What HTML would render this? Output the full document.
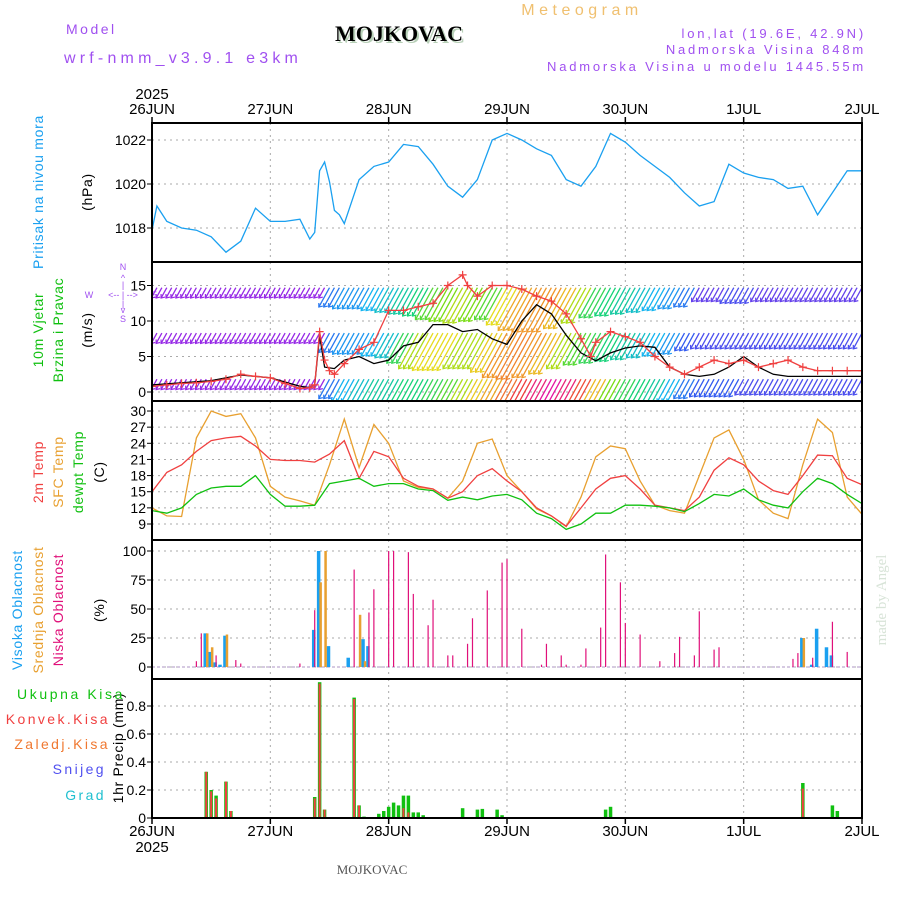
<!DOCTYPE html>
<html><head><meta charset="utf-8"><style>
html,body{margin:0;padding:0;background:#fff;width:900px;height:900px;overflow:hidden}
svg text{font-family:"Liberation Sans",sans-serif}
</style></head><body>
<svg id="chart" width="900" height="900" viewBox="0 0 900 900" xmlns="http://www.w3.org/2000/svg">
<rect width="900" height="900" fill="#fff"/>
<text x="582" y="15" font-size="16" fill="#f0c070" text-anchor="middle" letter-spacing="4.5">Meteogram</text>
<text x="401" y="43" font-size="22" font-weight="bold" fill="#b8d0b8" text-anchor="middle" style="font-family:'Liberation Serif',serif">MOJKOVAC</text>
<text x="399" y="41" font-size="22" font-weight="bold" fill="#000" text-anchor="middle" style="font-family:'Liberation Serif',serif">MOJKOVAC</text>
<text x="66" y="34" font-size="14" fill="#a050f0" letter-spacing="2.5">Model</text>
<text x="64" y="63" font-size="16" fill="#a050f0" letter-spacing="4.2">wrf-nmm_v3.9.1 e3km</text>
<text x="866" y="38" font-size="13" fill="#a050f0" text-anchor="end" letter-spacing="2.8">lon,lat (19.6E, 42.9N)</text>
<text x="866" y="54" font-size="13" fill="#a050f0" text-anchor="end" letter-spacing="2.8">Nadmorska Visina 848m</text>
<text x="866" y="71" font-size="13" fill="#a050f0" text-anchor="end" letter-spacing="2.8">Nadmorska Visina u modelu 1445.55m</text>
<text x="372" y="874" font-size="13" fill="#555" text-anchor="middle" style="font-family:'Liberation Serif',serif">MOJKOVAC</text>
<text transform="translate(886,600) rotate(-90)" font-size="15" fill="#d8e4d8" text-anchor="middle" style="font-family:'Liberation Serif',serif">made by Angel</text>

<g font-size="14" letter-spacing="0.7">
<text transform="translate(43,192) rotate(-90)" fill="#1aa0f0" text-anchor="middle">Pritisak na nivou mora</text>
<text transform="translate(92,192) rotate(-90)" fill="#000" text-anchor="middle">(hPa)</text>
<text transform="translate(43,330) rotate(-90)" fill="#10c010" text-anchor="middle">10m Vjetar</text>
<text transform="translate(63,330) rotate(-90)" fill="#10c010" text-anchor="middle">Brzina i Pravac</text>
<text transform="translate(92,330) rotate(-90)" fill="#000" text-anchor="middle">(m/s)</text>
<text transform="translate(43,472) rotate(-90)" fill="#f04040" text-anchor="middle">2m Temp</text>
<text transform="translate(63,472) rotate(-90)" fill="#e8a030" text-anchor="middle">SFC Temp</text>
<text transform="translate(83,472) rotate(-90)" fill="#10c010" text-anchor="middle">dewpt Temp</text>
<text transform="translate(104,472) rotate(-90)" fill="#000" text-anchor="middle">(C)</text>
<text transform="translate(22,610) rotate(-90)" fill="#1aa0f0" text-anchor="middle">Visoka Oblacnost</text>
<text transform="translate(43,610) rotate(-90)" fill="#e8a030" text-anchor="middle">Srednja Oblacnost</text>
<text transform="translate(63,610) rotate(-90)" fill="#e0107a" text-anchor="middle">Niska Oblacnost</text>
<text transform="translate(104,610) rotate(-90)" fill="#000" text-anchor="middle">(%)</text>
<text transform="translate(123,748) rotate(-90)" fill="#000" text-anchor="middle">1hr Precip (mm)</text>
<text x="125" y="699" fill="#10c010" text-anchor="end" letter-spacing="2.6">Ukupna Kisa</text>
<text x="110" y="724" fill="#f04040" text-anchor="end" letter-spacing="2.4">Konvek.Kisa</text>
<text x="110" y="749" fill="#f07830" text-anchor="end" letter-spacing="2.4">Zaledj.Kisa</text>
<text x="106" y="774" fill="#5050f0" text-anchor="end" letter-spacing="2.4">Snijeg</text>
<text x="106" y="800" fill="#20c0d0" text-anchor="end" letter-spacing="2.4">Grad</text>
</g>
<g fill="#a050f0" font-size="9" text-anchor="middle">
<text x="123" y="270">N</text><text x="123" y="281">^</text><text x="123" y="288">|</text>
<text x="89" y="298">W</text><text x="123" y="298">&lt;-- | --&gt;</text><text x="154" y="298">E</text>
<text x="123" y="307">|</text><text x="123" y="313">v</text><text x="123" y="322">S</text>
</g>
<g id="plot"></g>
</svg>
<script>
// ---- data ----
const dayLabels = ['26JUN','27JUN','28JUN','29JUN','30JUN','1JUL','2JUL'];
const presHours = [0,1,3,6,9,12,15,18,21,24,27,30,32,33,34,35,36,37,38,39,42,45,48,51,54,57,60,63,66,69,72,75,78,81,84,87,90,93,96,99,102,105,108,111,114,117,120,123,126,129,132,135,138,141,144];
const presVals = [1017.9,1019,1018.3,1018,1017.9,1017.6,1016.9,1017.4,1018.9,1018.3,1018.3,1018.4,1017.5,1017.8,1020.6,1021,1020.1,1018.8,1018.6,1018.2,1020.2,1020.8,1021,1021.8,1021.7,1020.9,1019.9,1019.4,1020.2,1022,1022.3,1022,1021.6,1021.3,1020.2,1019.9,1020.8,1022.3,1021.9,1021.3,1020.8,1020.3,1019.6,1019,1019.2,1020.9,1020.5,1020.3,1020.2,1019.8,1019.9,1018.6,1019.6,1020.6,1020.6];
const presTicks = [1018,1020,1022];

const windLow = [3,3,3,3,3,3,3,3,3,3,3,3,8,10,11,12,12,13,13,14,15,17,19,21,24,27,30,32,30,26,20,16,14,13,12,10,8,7,7,7,6,6,6,6,6,6,6,6,6];
const windMid = [3,3,3,3,3,3,3,3,3,3,3,3,8,9,9,10,11,14,17,18,18,17,17,19,22,23,22,20,17,15,14,13,12,11,10,9,7,6,6,6,6,6,6,6,6,6,6,6,6];
const windTop = [3,3,3,3,3,3,3,3,3,3,3,3,8,9,9,10,11,12,13,15,16,17,16,15,18,21,22,22,20,17,14,13,12,11,10,9,8,5,5,6,6,5,5,5,5,5,5,5,5];
const gustHours = [0,3,6,9,12,15,18,21,24,27,30,32,33,34,35,36,37,39,42,45,48,51,54,57,60,63,64,66,69,72,75,78,81,84,87,89,90,93,96,99,102,105,108,111,114,117,120,123,126,129,132,135,138,141,144];
const gustVals = [0.8,1,1.2,1.3,1.5,1.8,2.5,2.2,2,1.2,0.5,0.6,1,8.5,4.5,3,2.5,4,6,7,11.5,11.5,12,12.5,15,16.5,15,13.5,15,15,14.5,13.5,12.8,11,7.5,5,7,8.5,7.8,7,5,3.5,2.5,3.5,4.5,4,4.5,3.5,4,4.5,3.5,3,3,3,3];
const speedHours = [0,6,12,18,24,30,32,33,34,35,37,39,42,45,48,51,54,57,60,63,66,69,72,75,78,81,84,87,90,93,96,99,102,105,108,111,114,117,120,123,126,129,132,135,138,141,144];
const speedVals = [1,1.3,1.6,2.4,2,0.8,0.6,1,8,3.5,3.3,4.5,5,4,4.5,6.5,7,9.5,9.5,8.5,8.8,7.5,6.7,10,12.3,11,8,5.5,4.4,5.5,6.2,6.5,6.3,3.5,2.5,2.2,2.5,3.5,5,3.5,2.5,2.2,2.2,2.2,2.2,2.2,2.2];
const windTicks = [0,5,10,15];

const tempHours = [0,3,6,9,12,15,18,21,24,27,30,33,36,39,42,45,48,51,54,57,60,63,66,69,72,75,78,81,84,87,90,93,96,99,102,105,108,111,114,117,120,123,126,129,132,135,138,141,144];
const t2m = [15,18.6,20,22.5,24.5,25,25.3,23.5,21,20.8,20.8,20.5,22,24.5,17.5,22.5,21.5,17.5,16,15.5,13.8,15,18,19.3,17,15,12,10.5,8.6,12,15.5,17.5,18,15.5,12.5,12,11.5,14,19,21.3,20,17,15.2,14.5,18,21.8,21.7,17.5,16.3];
const tSfc = [12,10.5,10.4,25,30,29,29.5,25,16,14,13.3,12.5,20,28.5,19.5,27.5,24,17,15.8,15.5,13.8,17,24,24.8,18,15,11.8,10.5,8.5,14,21.5,23.5,23,17,12.5,11.5,11,18,25,26.5,21,13.5,11,10,20,28.5,26,14,10.8];
const tDew = [11.5,11,12,14.5,15.7,16,16,18,14.5,12.3,12.3,12.5,16.5,17,17.5,16,16.5,16.5,15.5,15.2,13.4,14,13.5,14.2,14.5,13.5,11,10,8,9,11,11,12.5,12.5,12.3,12,11.3,12.8,14.5,14.2,15.5,13.5,12.5,12,15,17.5,16.5,14.5,12.8];
const tempTicks = [9,12,15,18,21,24,27,30];

const lowCloudHours = [9,10,13,17,18,30,33,41,44,45,48,49,52,53,56,57,60,61,64,65,68,71,72,75,79,80,83,84,87,88,91,92,95,96,99,103,106,107,110,111,114,115,130,131,134,138,141];
const lowCloudVals = [5,29,10,6,3,3,49,84,47,67,100,100,99,63,36,58,10,10,20,42,66,90,93,33,2,20,10,2,2,16,34,97,73,38,28,5,12,26,10,48,15,17,7,12,8,39,13];
const highCloudHours = [11,12,13,14,15,33,34,36,40,43,44,132,134,135,137,138];
const highCloudVals = [29,13,4,2,27,32,100,18,8,24,18,25,2,33,17,10];
const midCloudHours = [11,12,15,34,35,42,43,132];
const midCloudVals = [29,17,28,73,100,45,5,25];
const cloudTicks = [0,25,50,75,100];

const precipHours = [11,12,13,15,16,33,34,35,41,42,43,46,47,48,49,50,51,52,53,54,55,63,66,67,70,71,92,93,132,138,139];
const precipTotal = [.33,.20,.16,.26,.05,.15,.97,.06,.86,.09,.01,.03,.05,.08,.11,.09,.16,.16,.04,.04,.02,.07,.06,.065,.06,.02,.06,.08,.25,.09,.05];
const precipConv = [.33,.19,.14,.26,.05,.14,.96,.06,.85,.09,0,0,0,0,0,0,.07,.04,0,0,0,0,0,0,0,0,0,0,.21,0,0];
const precipTicks = [0,0.2,0.4,0.6,0.8];

// ---- layout ----
const NS='http://www.w3.org/2000/svg';
const X0=152, X1=862, HOURS=144;
const xOf = h => X0 + h*(X1-X0)/HOURS;
const panels = [{top:123,bot:262},{top:262,bot:401},{top:401,bot:540},{top:540,bot:679},{top:679,bot:818}];
const yPres = v => 184-(v-1020)*22;
const yWind = v => 392-v*7.1;
const yTemp = v => 524-(v-9)*5.38;
const yCloud = v => 667-v*1.16;
const yPrec = v => 818-v*140;
const plot=document.getElementById('plot');
function mk(tag,attrs,parent){const e=document.createElementNS(NS,tag);for(const k in attrs)e.setAttribute(k,attrs[k]);(parent||plot).appendChild(e);return e;}
function clip(id,p){const c=mk('clipPath',{id:id});mk('rect',{x:X0,y:p.top,width:X1-X0,height:p.bot-p.top},c);}
panels.forEach((p,i)=>clip('c'+i,p));

function grid(ticks,yf,i,fmt){
  const g=mk('g',{});
  
  
  const p=panels[i];
  for(let d=1;d<6;d++){mk('line',{x1:xOf(d*24),x2:xOf(d*24),y1:p.top,y2:p.bot,stroke:'#aaa','stroke-dasharray':'2,4'},g);}
  ticks.forEach(t=>{
    const y=yf(t);
    mk('line',{x1:X0,x2:X1,y1:y,y2:y,stroke:'#aaa','stroke-dasharray':'2,4'},g);
    mk('line',{x1:X0-5,x2:X0,y1:y,y2:y,stroke:'#000'},g);
    const tx=mk('text',{x:X0-6,y:y+5,'font-size':14,'text-anchor':'end',fill:'#000'},g);
    tx.textContent=fmt(t);
  });
}
grid(presTicks,yPres,0,t=>String(t));
grid(windTicks,yWind,1,t=>String(t));
grid(tempTicks,yTemp,2,t=>String(t));
grid(cloudTicks,yCloud,3,t=>String(t));
grid(precipTicks,yPrec,4,t=>t===0?'0':String(t));

function line(hs,vs,yf,color,name,ci){
  const d=hs.map((h,i)=>(i?'L':'M')+xOf(h).toFixed(1)+','+yf(vs[i]).toFixed(1)).join('');
  const e=mk('path',{d:d,fill:'none',stroke:color,'stroke-width':1.3,'clip-path':'url(#c'+ci+')'});
  
  
  return e;
}
line(presHours,presVals,yPres,'#1aa0f0','pressure-line',0);

function windColor(s){
  const stops=[[3,[150,40,230]],[7,[50,90,240]],[10,[20,180,240]],[13,[20,210,120]],[16,[120,220,20]],[18,[230,220,30]],[22,[240,150,40]],[27,[240,60,60]],[32,[230,20,160]]];
  if(s<=stops[0][0])return 'rgb('+stops[0][1]+')';
  for(let i=1;i<stops.length;i++){if(s<=stops[i][0]){const a=stops[i-1],b=stops[i],f=(s-a[0])/(b[0]-a[0]);return 'rgb('+a[1].map((c,j)=>Math.round(c+(b[1][j]-c)*f))+')';}}
  return 'rgb('+stops[stops.length-1][1]+')';
}
function windRow(arr,base,name){
  const g=mk('g',{'clip-path':'url(#c1)'});
  
  
  const yb=yWind(base);
  arr.forEach((s,i)=>{
    for(let k=0;k<3;k++){
      const h=i*3+k; if(h>HOURS)break;
      const x=xOf(h), len=s*1.8+5, col=windColor(s);
      mk('line',{x1:x,y1:yb,x2:x-len*0.55,y2:yb+len,stroke:col,'stroke-width':1.3},g);
      mk('path',{d:`M${x-len*0.55+4},${yb+len-1}L${x-len*0.55},${yb+len}L${x-len*0.55},${yb+len-4}`,fill:'none',stroke:col,'stroke-width':1.2},g);
    }
  });
}
windRow(windTop,14.7,'wind-barbs-upper');
windRow(windMid,8.3,'wind-barbs-middle');
windRow(windLow,1.8,'wind-barbs-lower');
line(speedHours,speedVals,yWind,'#000','wind-speed-line',1);
line(gustHours,gustVals,yWind,'#f04040','wind-gust-line',1);
{
 const g=mk('g',{'clip-path':'url(#c1)'});
 
 
 gustHours.forEach((h,i)=>{const x=xOf(h),y=yWind(gustVals[i]);
  mk('path',{d:`M${x-4},${y}h8M${x},${y-4}v8`,stroke:'#f04040','stroke-width':1.2},g);});
}

line(tempHours,tSfc,yTemp,'#e8a030','sfc-temp-line',2);
line(tempHours,t2m,yTemp,'#f04040','temp-2m-line',2);
line(tempHours,tDew,yTemp,'#10c010','dewpoint-line',2);

mk('line',{x1:X0,x2:X1,y1:yCloud(0),y2:yCloud(0),stroke:'#c8b8d8','stroke-width':1.5,'stroke-dasharray':'3,2'});
function bars(hs,vs,yf,color,w,off,name,ci){
  const g=mk('g',{'clip-path':'url(#c'+ci+')'});
  
  
  hs.forEach((h,i)=>{if(vs[i]<=0)return;const x=xOf(h)+off,y=yf(vs[i]);
    mk('rect',{x:x-w/2,y:y,width:w,height:yf(0)-y,fill:color},g);});
}
bars(highCloudHours,highCloudVals,yCloud,'#1aa0f0',3.5,-1,'high-cloud-bars',3);
bars(midCloudHours,midCloudVals,yCloud,'#e8a030',2.5,1,'mid-cloud-bars',3);
bars(lowCloudHours,lowCloudVals,yCloud,'#e0107a',1.2,0,'low-cloud-bars',3);
bars(precipHours,precipTotal,yPrec,'#10c010',3.5,0,'total-precip-bars',4);
bars(precipHours,precipConv,yPrec,'#f04040',2,0,'convective-precip-bars',4);

panels.forEach((p,i)=>{const r=mk('rect',{x:X0,y:p.top,width:X1-X0,height:p.bot-p.top,fill:'none',stroke:'#000','stroke-width':2});
 
 });

function xAxis(y,labelY,yearY,dir,name){
  const g=mk('g',{});
  
  
  dayLabels.forEach((d,i)=>{const x=xOf(i*24);
    mk('line',{x1:x,x2:x,y1:y,y2:y+dir*6,stroke:'#000','stroke-width':1.5},g);
    const t=mk('text',{x:x,y:labelY,'font-size':15,'text-anchor':'middle',fill:'#000'},g);t.textContent=d;});
  const yr=mk('text',{x:xOf(0),y:yearY,'font-size':15,'text-anchor':'middle',fill:'#000'},g);yr.textContent='2025';
}
xAxis(123,114,99,-1,'top-x-axis');
xAxis(818,836,852,1,'bottom-x-axis');
</script>
</body></html>
